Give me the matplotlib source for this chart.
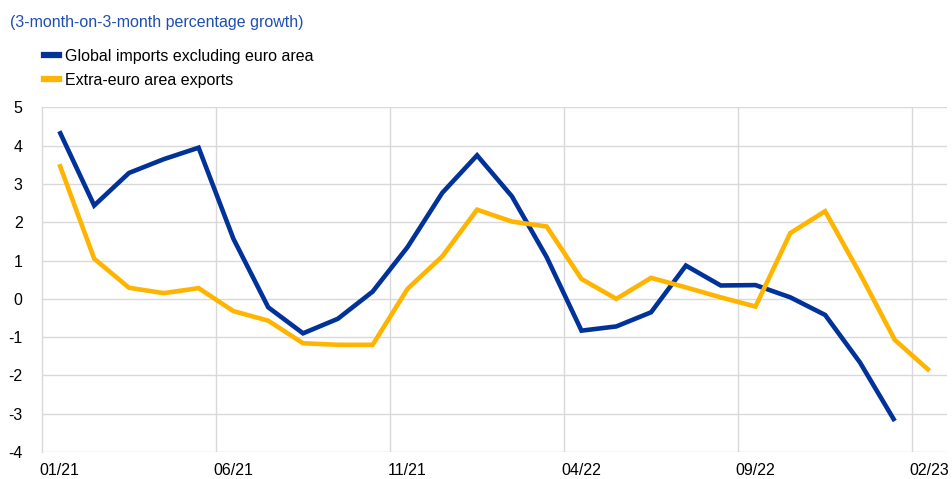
import matplotlib
matplotlib.use("Agg")
import matplotlib.pyplot as plt
from matplotlib.lines import Line2D

months = ["01/21","02/21","03/21","04/21","05/21","06/21","07/21","08/21","09/21","10/21","11/21","12/21",
          "01/22","02/22","03/22","04/22","05/22","06/22","07/22","08/22","09/22","10/22","11/22","12/22",
          "01/23","02/23"]
global_imports = [4.38, 2.44, 3.29, 3.65, 3.95, 1.57, -0.22, -0.90, -0.52, 0.19, 1.35, 2.77, 3.75, 2.68,
                  1.09, -0.83, -0.72, -0.35, 0.87, 0.35, 0.36, 0.04, -0.42, -1.66, -3.19, None]
extra_exports = [3.52, 1.05, 0.29, 0.15, 0.28, -0.32, -0.57, -1.16, -1.20, -1.20, 0.26, 1.11, 2.33, 2.02,
                 1.89, 0.52, 0.00, 0.55, 0.30, 0.04, -0.20, 1.72, 2.29, 0.66, -1.07, -1.88]
tick_labels = ["01/21", "06/21", "11/21", "04/22", "09/22", "02/23"]
series_names = ["Global imports excluding euro area", "Extra-euro area exports"]

BLUE = "#003299"
YELLOW = "#FFB400"
GRID = "#d9d9d9"
FS = 11.5

plt.rcParams['font.family'] = ['Liberation Sans', 'DejaVu Sans']

fig = plt.figure(figsize=(9.52, 4.79), dpi=100)
ax = fig.add_axes([0.0441, 0.0564, 0.9506, 0.7192])

x = list(range(len(months)))
gx = [i for i, v in zip(x, global_imports) if v is not None]
gy = [v for v in global_imports if v is not None]
ax.plot(gx, gy, color=BLUE, lw=3.3, solid_joinstyle='miter', solid_capstyle='butt', zorder=3)
ax.plot(x, extra_exports, color=YELLOW, lw=3.3, solid_joinstyle='miter', solid_capstyle='butt', zorder=3)

ax.set_xlim(-0.5, len(months) - 0.5)
ax.set_ylim(-4, 5)
ax.set_yticks(range(-4, 6))
ax.set_yticklabels([str(v) for v in range(-4, 6)], fontsize=FS)
tick_pos = [months.index(t) for t in tick_labels]
ax.set_xticks(tick_pos)
ax.set_xticklabels(tick_labels, fontsize=FS)
ax.tick_params(length=0, pad=8, colors='black')
ax.tick_params(axis='y', pad=14)

for yv in range(-4, 6):
    ax.axhline(yv, color=GRID, lw=1.0, zorder=1)
for xv in [4.5, 9.5, 14.5, 19.5, 24.5]:
    ax.axvline(xv, color=GRID, lw=1.0, zorder=1)
for s in ['top', 'right', 'bottom']:
    ax.spines[s].set_visible(False)
ax.spines['left'].set_color(GRID)
ax.spines['left'].set_linewidth(1.0)

fig.text(0.0105, 1 - 22/479, "(3-month-on-3-month percentage growth)", color="#1f4fb0",
         fontsize=FS, va='center', ha='left')

handles = [Line2D([0], [0], color=BLUE, lw=4.5), Line2D([0], [0], color=YELLOW, lw=4.5)]
fig.legend(handles, series_names, loc='upper left', bbox_to_anchor=(44/952, 1 - 49/479),
           frameon=False, fontsize=FS, handlelength=0.95, handletextpad=0.35, labelspacing=0.55,
           borderaxespad=0, borderpad=0)

fig.savefig("out.png", dpi=100)
